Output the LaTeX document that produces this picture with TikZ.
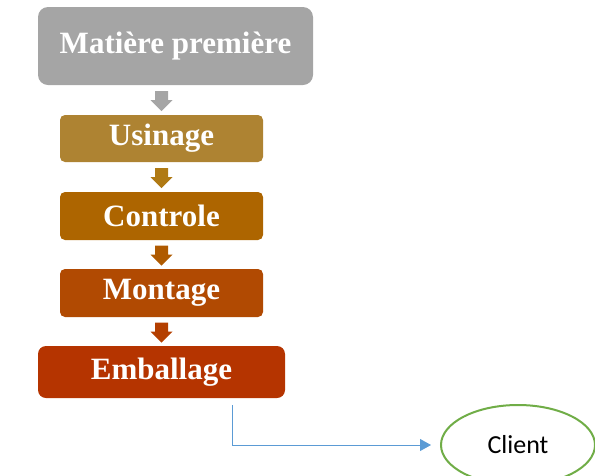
\documentclass[tikz,border=0pt]{standalone}
\usepackage{fontspec}
\setmainfont{Liberation Serif}
\newfontfamily\calib{Carlito}
\usetikzlibrary{calc,arrows.meta,shapes.geometric}
\definecolor{cgray}{HTML}{A5A5A5}
\definecolor{cusin}{HTML}{AE8332}
\definecolor{ccont}{HTML}{AD6500}
\definecolor{cmont}{HTML}{B14A02}
\definecolor{cemb}{HTML}{B53400}
\definecolor{ca1}{HTML}{A5A5A5}
\definecolor{ca2}{HTML}{B07A14}
\definecolor{ca3}{HTML}{AF5A00}
\definecolor{ca4}{HTML}{B43F00}
\definecolor{cblue}{HTML}{5B9BD5}
\definecolor{cgreen}{HTML}{70AD47}
\tikzset{
  stepbox/.style={rectangle, rounded corners=5pt, draw=none, text=white,
    font=\bfseries\fontsize{31}{34}\selectfont, inner sep=0pt},
}
\newcommand{\blockarrow}[3]{%
  \coordinate (bam) at ($(#2.south)!0.5!(#3.north)$);
  \coordinate (bac) at (#3.north |- bam);
  \fill[#1] ($(bac)+(-6.5,-9)$) -- ++(13,0) -- ++(0,9) -- ++(4.5,0)
    -- ($(bac)+(0,11)$) -- ($(bac)+(-11,0)$) -- ++(4.5,0) -- cycle;}
\begin{document}
\begin{tikzpicture}[x=1pt,y=-1pt]
\useasboundingbox (0,0) rectangle (595,475);
\node[stepbox, fill=cgray, minimum width=275pt, minimum height=78pt, rounded corners=10pt] (mp) at (175.5,46) {Matière première};
\node[stepbox, fill=cusin, minimum width=203pt, minimum height=47pt] (us) at (161.5,138.5) {Usinage};
\node[stepbox, fill=ccont, minimum width=203pt, minimum height=48pt] (co) at (161.5,216) {Controle};
\node[stepbox, fill=cmont, minimum width=203pt, minimum height=48pt] (mo) at (161.5,293) {Montage};
\node[stepbox, fill=cemb, minimum width=247pt, minimum height=52pt, rounded corners=8pt] (em) at (161.5,372) {Emballage};
\node[ellipse, draw=cgreen, line width=2pt, minimum width=154pt, minimum height=80pt, font=\calib\fontsize{26}{30}\selectfont] (cl) at (518,445) {Client};
\coordinate (t1) at (232,405);
\blockarrow{ca1}{mp}{us}
\blockarrow{ca2}{us}{co}
\blockarrow{ca3}{co}{mo}
\blockarrow{ca4}{mo}{em}
\draw[cblue, line width=0.9pt, -{Triangle[length=11pt,width=12pt]}, shorten >=9pt] (t1) |- (cl.west);
\end{tikzpicture}
\end{document}
